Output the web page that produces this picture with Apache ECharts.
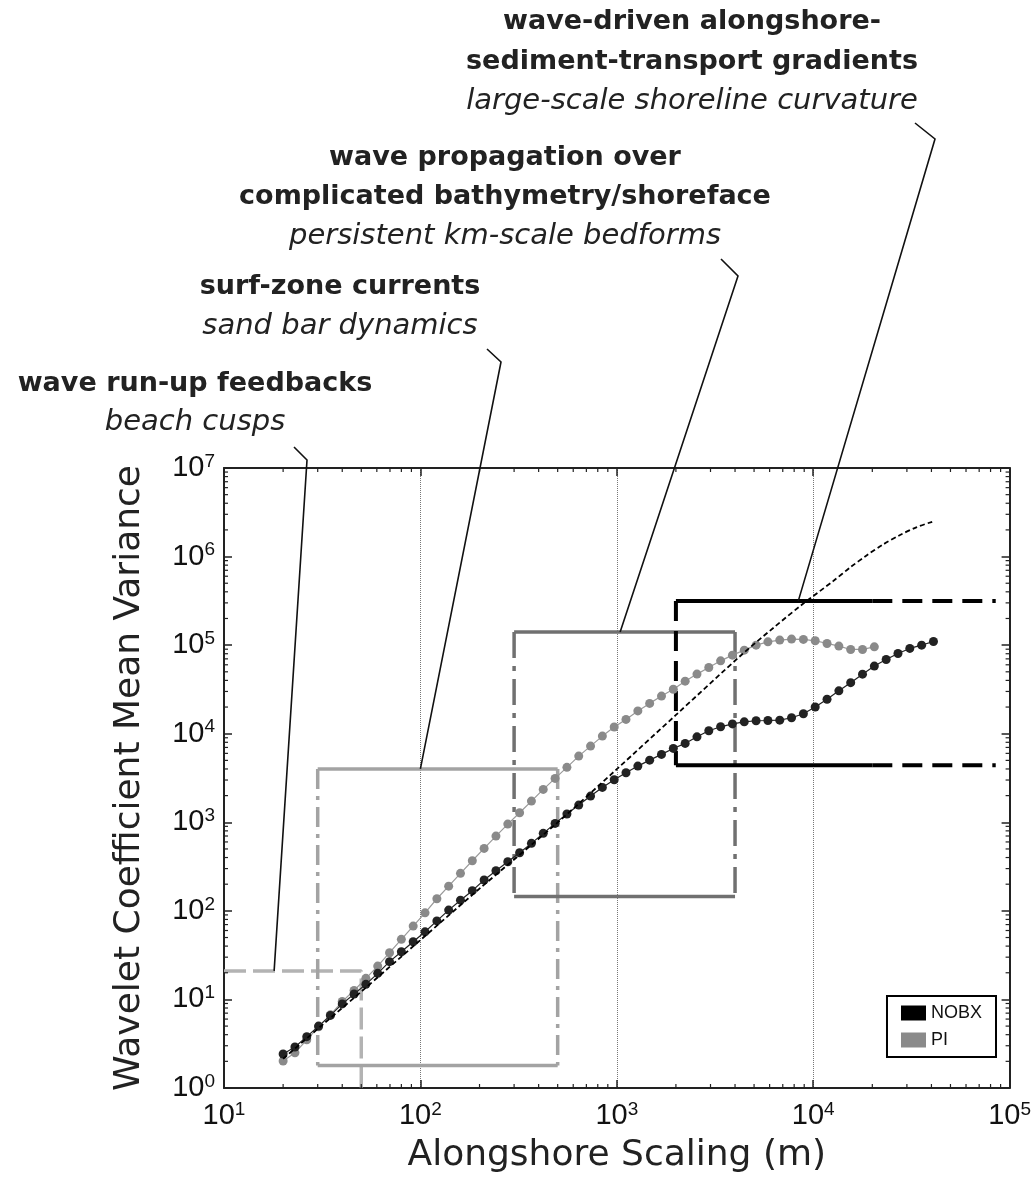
<!DOCTYPE html>
<html>
<head>
<meta charset="utf-8">
<title>wavelet variance</title>
<script src="https://cdn.jsdelivr.net/npm/echarts@6/dist/echarts.min.js"></script>
<style>
  body { margin: 0; background: #fff; }
  #main { width: 1034px; height: 1182px; }
</style>
</head>
<body>
<div id="main"></div>
<script>
// alongshore scales (m) of the wavelet analysis, 5 voices per octave
var scales = [20, 22.97, 26.39, 30.31, 34.82, 40, 45.95, 52.78, 60.63, 69.64,
  80, 91.9, 105.6, 121.3, 139.3, 160, 183.8, 211.1, 242.5, 278.6,
  320, 367.6, 422.2, 485.0, 557.2, 640, 735.2, 844.5, 970.1, 1114,
  1280, 1470, 1689, 1940, 2229, 2560, 2941, 3378, 3880, 4457,
  5120, 5881, 6756, 7760, 8914, 10240, 11763, 13512, 15521, 17829,
  20480, 23525, 27023, 31042, 35658, 40960];

// wavelet coefficient mean variance
var nobx = [2.42, 2.9, 3.8, 5.0, 6.6, 8.9, 11.5, 14.8, 19.7, 26.7,
  34.5, 44.8, 58, 77, 102, 132, 169, 223, 284, 358,
  453, 578, 750, 972, 1239, 1565, 1976, 2477, 3020, 3620,
  4310, 5030, 5840, 6820, 7770, 9220, 10790, 11970, 12900, 13620,
  14000, 14100, 14230, 15130, 16800, 20000, 24500, 30500, 37700, 47000,
  58000, 68900, 80500, 91800, 100000, 110000];
var pi = [2.02, 2.5, 3.5, 4.9, 6.7, 9.5, 12.6, 17.3, 23.8, 33.7,
  47.7, 67.3, 95, 137, 190, 265, 368, 507, 698, 954,
  1280, 1734, 2350, 3130, 4170, 5590, 7250, 9400, 11900, 14500,
  18100, 22000, 26600, 31800, 39200, 47100, 56000, 66500, 77100, 87800,
  100000, 109000, 114000, 117000, 116000, 112000, 104500, 97500, 89400, 89400,
  95700];

// model curve (dashed)
var fitX = [20, 31.6, 50.1, 100, 200, 501, 1000, 1995, 4365, 6310, 8910, 12590, 15490, 18620, 22650, 27540, 33500, 40360];
var fitY = [2.14, 5.13, 12.3, 46.8, 178, 1000, 3980, 16200, 79400, 158500, 295000, 525000, 759000, 1023000, 1365000, 1740000, 2140000, 2470000];

// scale ranges of the four processes
var beachX = [10, 50], beachY = [1, 21];
var sandX = [30, 500], sandY = [1.8, 4000];
var bedX = [300, 4000], bedY = [145, 141000];
var shoreX = [2000, 20000, 85000], shoreY = [4400, 316000];

var xTicks = [10, 100, 1000, 10000, 100000];
var yTicks = [1, 10, 100, 1000, 10000, 100000, 1000000, 10000000];

var notes = [
  { bold: ['wave-driven alongshore-', 'sediment-transport gradients'], italic: 'large-scale shoreline curvature', x: 692, y: [22, 62, 101] },
  { bold: ['wave propagation over', 'complicated bathymetry/shoreface'], italic: 'persistent km-scale bedforms', x: 505, y: [158, 197, 236] },
  { bold: ['surf-zone currents'], italic: 'sand bar dynamics', x: 340, y: [287, 326] },
  { bold: ['wave run-up feedbacks'], italic: 'beach cusps', x: 195, y: [384, 422] }
];
var leaderDefs = [
  { a: [915, 123], b: [935, 139], end: [8400, 316000] },
  { a: [721, 259], b: [738, 276], end: [1040, 141000] },
  { a: [487, 349], b: [501, 362], end: [100, 4000] },
  { a: [294, 447], b: [307, 460], end: [18, 21] }
];

function zip(xs, ys) {
  var out = [];
  for (var i = 0; i < ys.length; i++) out.push([xs[i], ys[i]]);
  return out;
}

function seg(pts, color, width, type) {
  return {
    type: 'line', data: pts, symbol: 'none', silent: true, z: 2,
    lineStyle: { color: color, width: width, type: type },
    animation: false
  };
}

var dashDot = [20, 7, 4, 7];

var boxSeries = [
  // beach cusps
  seg([[beachX[0], beachY[1]], [beachX[1], beachY[1]], [beachX[1], beachY[0]]], '#b3b3b3', 3.5, [22, 7]),
  // sand bars
  seg([[sandX[0], sandY[1]], [sandX[1], sandY[1]]], '#a3a3a3', 3.5, 'solid'),
  seg([[sandX[0], sandY[0]], [sandX[1], sandY[0]]], '#a3a3a3', 3.5, 'solid'),
  seg([[sandX[0], sandY[1]], [sandX[0], sandY[0]]], '#a3a3a3', 3.5, dashDot),
  seg([[sandX[1], sandY[1]], [sandX[1], sandY[0]]], '#a3a3a3', 3.5, dashDot),
  // bedforms
  seg([[bedX[0], bedY[1]], [bedX[1], bedY[1]]], '#707070', 3.5, 'solid'),
  seg([[bedX[0], bedY[0]], [bedX[1], bedY[0]]], '#707070', 3.5, 'solid'),
  seg([[bedX[0], bedY[1]], [bedX[0], bedY[0]]], '#707070', 3.5, [26, 8, 5, 8]),
  seg([[bedX[1], bedY[1]], [bedX[1], bedY[0]]], '#707070', 3.5, [26, 8, 5, 8]),
  // shoreline curvature
  seg([[shoreX[0], shoreY[1]], [shoreX[1], shoreY[1]]], '#000', 4, 'solid'),
  seg([[shoreX[0], shoreY[0]], [shoreX[1], shoreY[0]]], '#000', 4, 'solid'),
  seg([[shoreX[1], shoreY[1]], [shoreX[2], shoreY[1]]], '#000', 4, [20, 10]),
  seg([[shoreX[1], shoreY[0]], [shoreX[2], shoreY[0]]], '#000', 4, [20, 10]),
  seg([[shoreX[0], shoreY[1]], [shoreX[0], shoreY[0]]], '#000', 4, [20, 10])
];

// minor ticks 2..9 x 10^k on all four sides
var minor = [];
for (var d = 1; d < 5; d++) for (var m = 2; m < 10; m++) {
  minor.push([m * Math.pow(10, d), 1, 0]);
  minor.push([m * Math.pow(10, d), 1e7, 1]);
}
for (var d2 = 0; d2 < 7; d2++) for (var m2 = 2; m2 < 10; m2++) {
  minor.push([10, m2 * Math.pow(10, d2), 2]);
  minor.push([1e5, m2 * Math.pow(10, d2), 3]);
}

function expLabel(v) {
  var e = Math.round(Math.log(v) / Math.LN10);
  return '{b|10}{s|' + e + '}';
}
var labelRich = {
  b: { fontSize: 29, lineHeight: 32, fontFamily: 'Liberation Sans', color: '#111' },
  s: { fontSize: 19, lineHeight: 20, fontFamily: 'Liberation Sans', color: '#111', verticalAlign: 'top' }
};
var axisLineStyle = { color: '#222', width: 2 };
var tickStyle = { show: true, inside: true, length: 8, lineStyle: { color: '#222', width: 1.5 } };

var chart = echarts.init(document.getElementById('main'));

var option = {
  backgroundColor: '#fff',
  animation: false,
  grid: { left: 224, right: 24, top: 468, bottom: 94 },
  legend: {
    data: [{ name: 'NOBX', itemStyle: { color: '#000' } }, { name: 'PI', itemStyle: { color: '#8a8a8a' } }],
    orient: 'vertical',
    right: 38, bottom: 125,
    icon: 'rect', itemWidth: 25, itemHeight: 15, itemGap: 9,
    padding: [8, 14, 8, 14],
    borderColor: '#000', borderWidth: 2, backgroundColor: '#fff',
    textStyle: { fontSize: 18, fontFamily: 'Liberation Sans', color: '#111' }
  },
  xAxis: [{
    type: 'log', logBase: 10, min: xTicks[0], max: xTicks[xTicks.length - 1], splitNumber: 4,
    axisLine: { lineStyle: axisLineStyle }, axisTick: tickStyle,
    axisLabel: { formatter: expLabel, rich: labelRich, margin: 12 },
    splitLine: { show: true, lineStyle: { type: 'dotted', color: '#777', width: 1 } },
    name: 'Alongshore Scaling (m)', nameLocation: 'middle', nameGap: 50,
    nameTextStyle: { fontSize: 36, fontFamily: 'DejaVu Sans', color: '#222' }
  }, {
    type: 'log', logBase: 10, min: xTicks[0], max: xTicks[xTicks.length - 1], splitNumber: 4,
    position: 'top', axisLine: { lineStyle: axisLineStyle }, axisTick: tickStyle,
    axisLabel: { show: false }, splitLine: { show: false }
  }],
  yAxis: [{
    type: 'log', logBase: 10, min: yTicks[0], max: yTicks[yTicks.length - 1], splitNumber: 7,
    axisLine: { lineStyle: axisLineStyle }, axisTick: tickStyle,
    axisLabel: { formatter: expLabel, rich: labelRich, margin: 9 },
    splitLine: { show: false },
    name: 'Wavelet Coefficient Mean Variance', nameLocation: 'middle', nameGap: 76,
    nameTextStyle: { fontSize: 36, fontFamily: 'DejaVu Sans', color: '#222' }
  }, {
    type: 'log', logBase: 10, min: yTicks[0], max: yTicks[yTicks.length - 1], splitNumber: 7,
    position: 'right', axisLine: { lineStyle: axisLineStyle }, axisTick: tickStyle,
    axisLabel: { show: false }, splitLine: { show: false }
  }],
  series: boxSeries.concat([
    {
      name: 'PI', type: 'line', data: zip(scales, pi), z: 3,
      color: '#8a8a8a', symbol: 'circle', symbolSize: 9,
      itemStyle: { color: '#8a8a8a' },
      lineStyle: { color: '#9a9a9a', width: 1.2 }
    },
    {
      name: 'NOBX', type: 'line', data: zip(scales, nobx), z: 4,
      color: '#000', symbol: 'circle', symbolSize: 9,
      itemStyle: { color: '#222' },
      lineStyle: { color: '#222', width: 1.2 }
    },
    {
      name: 'fit', type: 'line', data: zip(fitX, fitY), z: 5, smooth: 0.3,
      symbol: 'none', silent: true,
      lineStyle: { color: '#000', width: 1.8, type: [5, 3] }
    },
    {
      name: 'minor', type: 'custom', data: minor, z: 6, silent: true, clip: false,
      encode: { x: 0, y: 1 },
      renderItem: function (params, api) {
        var side = api.value(2);
        var p = api.coord([api.value(0), api.value(1)]);
        var q = [p[0], p[1]];
        if (side === 0) q[1] -= 4;
        else if (side === 1) q[1] += 4;
        else if (side === 2) q[0] += 4;
        else q[0] -= 4;
        return {
          type: 'line',
          shape: { x1: p[0], y1: p[1], x2: q[0], y2: q[1] },
          style: { stroke: '#222', lineWidth: 1.2 }
        };
      }
    }
  ])
};

chart.setOption(option);

var graphics = [];
notes.forEach(function (n) {
  n.bold.forEach(function (t, i) {
    graphics.push({
      type: 'text', x: n.x, y: n.y[i], silent: true, z: 100,
      style: { text: t, fill: '#222', fontSize: 27, fontWeight: 'bold', fontFamily: 'DejaVu Sans', align: 'center', verticalAlign: 'middle' }
    });
  });
  graphics.push({
    type: 'text', x: n.x, y: n.y[n.bold.length], silent: true, z: 100,
    style: { text: n.italic, fill: '#222', fontSize: 29, fontStyle: 'italic', fontFamily: 'DejaVu Sans', align: 'center', verticalAlign: 'middle' }
  });
});
leaderDefs.forEach(function (d) {
  var end = chart.convertToPixel({ xAxisIndex: 0, yAxisIndex: 0 }, d.end);
  graphics.push({
    type: 'polyline', silent: true, z: 100,
    shape: { points: [d.a, d.b, end] },
    style: { stroke: '#111', lineWidth: 1.6, fill: 'none' }
  });
});
chart.setOption({ graphic: graphics });
</script>
</body>
</html>
